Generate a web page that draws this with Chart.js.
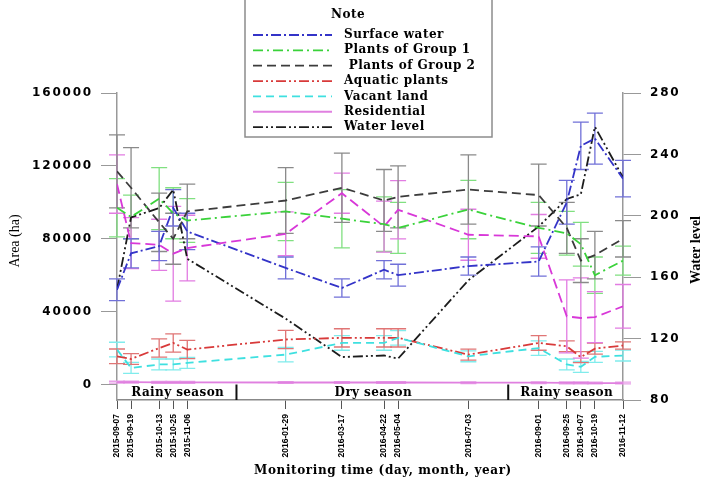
<!DOCTYPE html>
<html>
<head>
<meta charset="utf-8">
<script src="https://cdn.jsdelivr.net/npm/chart.js@4.4.1/dist/chart.umd.min.js"></script>
<style>
html, body { margin: 0; padding: 0; background: #fff; }
#wrap { width: 701px; height: 478px; position: relative; }
</style>
</head>
<body>
<div id="wrap"><canvas id="myChart"></canvas></div>
<script>
// monitoring dates (day offset from 2015-09-07 is used as x value)
const dateLabels = ['2015-09-07', '2015-09-19', '2015-10-13', '2015-10-25', '2015-11-06',
    '2016-01-29', '2016-03-17', '2016-04-22', '2016-05-04', '2016-07-03',
    '2016-09-01', '2016-09-25', '2016-10-07', '2016-10-19', '2016-11-12'];
const days = [0, 12, 36, 48, 60, 144, 192, 228, 240, 300, 360, 384, 396, 408, 432];

// areas (ha)
const surfaceWater = [52000, 72000, 76000, 97000, 84000, 64000, 53000, 63000, 60000, 65000, 67500, 100000, 131000, 135000, 113000];
const surfaceErr = [6000, 8000, 8000, 10000, 10000, 6000, 5000, 5000, 6000, 5000, 8000, 12000, 13000, 14000, 10000];
const group1 = [97000, 92000, 102000, 94000, 90000, 95000, 91000, 88000, 86000, 96000, 86000, 83000, 77000, 60000, 68000];
const group1Err = [16000, 12000, 17000, 14000, 12000, 16000, 16000, 15000, 14000, 16000, 14000, 12000, 12000, 10000, 8000];
const group2 = [117000, 108000, 89000, 80000, 95000, 101000, 108000, 101000, 103000, 107000, 104000, 86000, 68000, 71000, 80000];
const group2Err = [20000, 22000, 16000, 14000, 15000, 18000, 19000, 17000, 17000, 19000, 17000, 14000, 12000, 13000, 10000];
const group3 = [110000, 77600, 76700, 71800, 74900, 82700, 105000, 86700, 95900, 82200, 81300, 37400, 36500, 37000, 42900];
const group3Err = [16000, 14000, 14000, 26000, 18000, 12000, 11000, 14000, 16000, 14000, 12000, 20000, 22000, 14000, 12000];
const aquatic = [15500, 14000, 20000, 22800, 19200, 24700, 25600, 25600, 25600, 16400, 22800, 21000, 15000, 19700, 21400];
const aquaticErr = [4000, 3000, 5000, 5000, 5000, 5000, 5000, 5000, 5000, 3000, 4000, 3000, 3000, 3000, 2000];
const vacant = [19200, 9100, 11000, 11000, 11900, 16400, 22800, 22800, 25600, 15500, 20000, 11000, 9700, 15200, 15900];
const vacantErr = [4000, 3000, 3000, 3000, 3000, 4000, 4000, 4000, 4000, 3000, 4000, 3000, 3000, 3000, 3000];
const residential = [1300, 1300, 1200, 1200, 1200, 1100, 1100, 1100, 1100, 1000, 1000, 900, 900, 800, 800];
const residentialErr = [500, 500, 500, 500, 500, 500, 500, 500, 500, 500, 500, 500, 500, 500, 500];

// water level (right axis)
const waterLevel = [152, 199, 205, 217, 172, 133, 108, 109, 107, 158, 193, 211, 214, 258, 225];

const areaTicks = [0, 40000, 80000, 120000, 160000];
const levelTicks = [80, 120, 160, 200, 240, 280];

const seasonNames = ['Rainy season', 'Dry season', 'Rainy season'];
const seasonBounds = [0, 102, 334, 432];

function pts(vals) {
    return vals.map((v, i) => ({ x: days[i], y: v }));
}

function series(label, vals, err, color, errColor, dash, axis) {
    return {
        label: label,
        data: pts(vals),
        err: err,
        errColor: errColor,
        borderColor: color,
        backgroundColor: color,
        borderWidth: 1.8,
        borderDash: dash,
        pointRadius: 0,
        tension: 0,
        yAxisID: axis
    };
}

const datasets = [
    series('Residential', residential, residentialErr, '#e080e0', '#e8a0e8', [], 'y'),
    series('Vacant land', vacant, vacantErr, '#3fe0e0', '#80ecec', [8, 5], 'y'),
    series('Aquatic plants', aquatic, aquaticErr, '#d83a3a', '#e07575', [10, 3, 2, 3, 2, 3], 'y'),
    series('Plants of Group 1', group1, group1Err, '#3ad23a', '#80e080', [10, 4, 2, 4], 'y'),
    series('Plants of Group 3', group3, group3Err, '#d838d8', '#e27ce2', [10, 5], 'y'),
    series(' Plants of Group 2', group2, group2Err, '#3c3c3c', '#8a8a8a', [9, 5], 'y'),
    series('Surface water', surfaceWater, surfaceErr, '#3434c8', '#7070d8', [10, 3, 2, 3], 'y'),
    series('Water level', waterLevel, null, '#1c1c1c', null, [10, 3, 2, 3, 2, 3], 'y1')
];

// the magenta series has no entry in the original legend
const legendOrder = ['Surface water', 'Plants of Group 1', ' Plants of Group 2', 'Aquatic plants',
    'Vacant land', 'Residential', 'Water level'];

const extras = {
    id: 'extras',
    beforeDatasetsDraw(chart) {
        const ctx = chart.ctx;
        const xs = chart.scales.x;
        chart.data.datasets.forEach(ds => {
            if (!ds.err) return;
            const ys = chart.scales[ds.yAxisID];
            ctx.save();
            ctx.strokeStyle = ds.errColor;
            ctx.lineWidth = 1.3;
            ds.data.forEach((p, i) => {
                const px = xs.getPixelForValue(p.x);
                const top = ys.getPixelForValue(p.y + ds.err[i]);
                const bot = ys.getPixelForValue(p.y - ds.err[i]);
                ctx.beginPath();
                ctx.moveTo(px, top);
                ctx.lineTo(px, bot);
                ctx.moveTo(px - 8, top);
                ctx.lineTo(px + 8, top);
                ctx.moveTo(px - 8, bot);
                ctx.lineTo(px + 8, bot);
                ctx.stroke();
            });
            ctx.restore();
        });
    },
    afterDraw(chart) {
        const ctx = chart.ctx;
        const xs = chart.scales.x;
        const yl = chart.scales.y;
        const yr = chart.scales.y1;
        const area = chart.chartArea;

        ctx.save();
        // tick labels of both value axes
        ctx.fillStyle = '#000';
        ctx.font = 'bold 12px "DejaVu Sans"';
        ctx.letterSpacing = '1.8px';
        ctx.textBaseline = 'middle';
        ctx.textAlign = 'right';
        areaTicks.forEach(v => ctx.fillText(String(v), 93, yl.getPixelForValue(v)));
        ctx.textAlign = 'left';
        levelTicks.forEach(v => ctx.fillText(String(v), 650, yr.getPixelForValue(v)));

        // axis titles
        ctx.letterSpacing = '0px';
        ctx.font = '14px "Liberation Serif"';
        ctx.textAlign = 'center';
        ctx.save();
        ctx.translate(15, 241);
        ctx.rotate(-Math.PI / 2);
        ctx.fillText('Area (ha)', 0, 0);
        ctx.restore();
        ctx.save();
        ctx.translate(696, 250);
        ctx.rotate(-Math.PI / 2);
        ctx.font = 'bold 14px "Liberation Serif"';
        ctx.fillText('Water level', 0, 0);
        ctx.restore();
        ctx.font = 'bold 12px "DejaVu Serif"';
        ctx.letterSpacing = '0.6px';
        ctx.fillText('Monitoring time (day, month, year)', 383, 471);

        // season band under the zero line
        const zeroY = yl.getPixelForValue(0);
        ctx.strokeStyle = '#111';
        ctx.lineWidth = 2;
        for (let i = 1; i < seasonBounds.length - 1; i++) {
            const px = xs.getPixelForValue(seasonBounds[i]);
            ctx.beginPath();
            ctx.moveTo(px, zeroY);
            ctx.lineTo(px, area.bottom);
            ctx.stroke();
        }
        ctx.font = 'bold 12px "DejaVu Serif"';
        ctx.letterSpacing = '0.4px';
        seasonNames.forEach((name, i) => {
            const mid = (seasonBounds[i] + seasonBounds[i + 1]) / 2;
            ctx.fillText(name, xs.getPixelForValue(mid) + 1, (zeroY + area.bottom) / 2 + 1);
        });

        // legend box
        ctx.letterSpacing = '0px';
        ctx.fillStyle = '#fff';
        ctx.fillRect(245, -2, 247, 139);
        ctx.strokeStyle = '#8c8c8c';
        ctx.lineWidth = 1.5;
        ctx.strokeRect(245, -2, 247, 139);
        ctx.fillStyle = '#000';
        ctx.font = 'bold 12px "DejaVu Serif"';
        ctx.letterSpacing = '0.5px';
        ctx.fillText('Note', 348, 15);
        ctx.textAlign = 'left';
        legendOrder.forEach((name, i) => {
            const ds = chart.data.datasets.find(d => d.label === name);
            const ly = 35 + i * 15.35;
            ctx.save();
            ctx.strokeStyle = ds.borderColor;
            ctx.lineWidth = 1.8;
            ctx.setLineDash(ds.borderDash);
            ctx.beginPath();
            ctx.moveTo(253, ly);
            ctx.lineTo(332, ly);
            ctx.stroke();
            ctx.restore();
            ctx.fillText(name, 344, ly);
        });
        ctx.restore();
    }
};

new Chart(document.getElementById('myChart'), {
    type: 'line',
    data: { datasets: datasets },
    options: {
        responsive: true,
        maintainAspectRatio: false,
        animation: false,
        layout: { padding: { top: 93, left: 0, right: 0, bottom: 0 } },
        plugins: {
            legend: { display: false },
            tooltip: { enabled: false }
        },
        scales: {
            x: {
                type: 'linear',
                min: days[0],
                max: days[days.length - 1],
                afterBuildTicks: scale => { scale.ticks = days.map(d => ({ value: d })); },
                afterFit: scale => { scale.height = 78; },
                ticks: {
                    autoSkip: false,
                    minRotation: 90,
                    maxRotation: 90,
                    padding: 5,
                    color: '#000',
                    font: { family: 'Liberation Sans', size: 8.5, weight: 'bold' },
                    callback: v => dateLabels[days.indexOf(v)]
                },
                grid: { drawOnChartArea: false, tickLength: 9, color: '#555' },
                border: { color: '#888', width: 1.5 }
            },
            y: {
                position: 'left',
                min: -8500,
                max: 160000,
                afterBuildTicks: scale => { scale.ticks = areaTicks.map(v => ({ value: v })); },
                afterFit: scale => { scale.width = 117; },
                ticks: { callback: () => '' },
                grid: { drawOnChartArea: false, tickLength: 16, color: '#999' },
                border: { color: '#999', width: 1.5 }
            },
            y1: {
                position: 'right',
                min: 80,
                max: 280,
                afterBuildTicks: scale => { scale.ticks = levelTicks.map(v => ({ value: v })); },
                afterFit: scale => { scale.width = 78; },
                ticks: { callback: () => '' },
                grid: { drawOnChartArea: false, tickLength: 18, color: '#999' },
                border: { color: '#999', width: 1.5 }
            }
        }
    },
    plugins: [extras]
});
</script>
</body>
</html>
